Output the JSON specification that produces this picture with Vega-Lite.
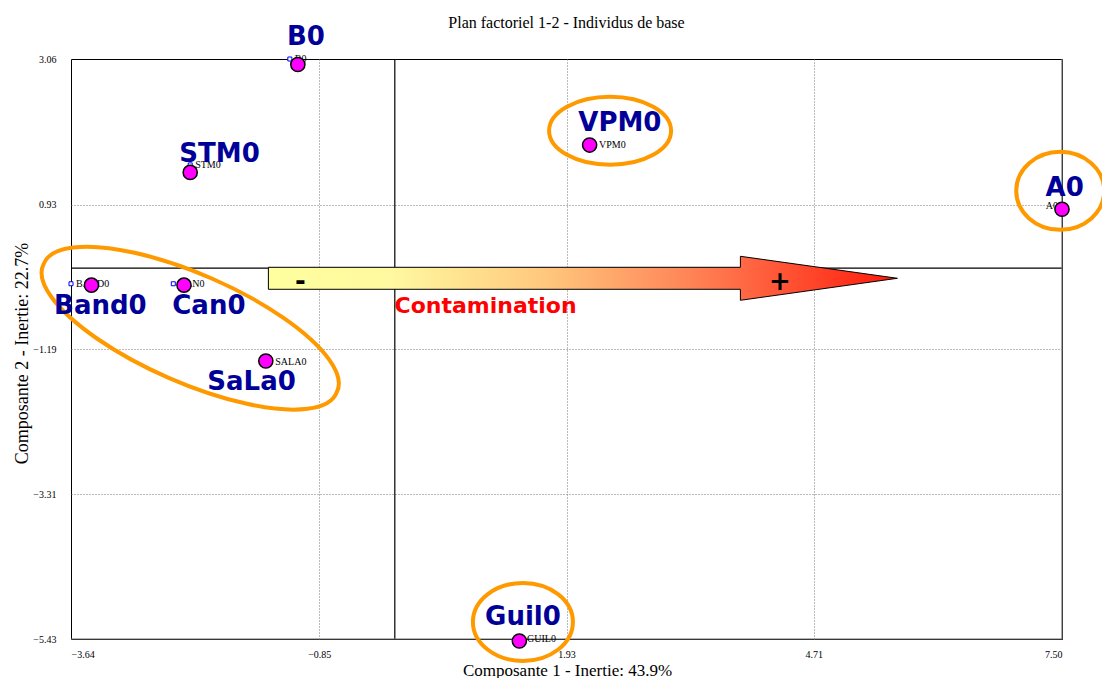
{
  "$schema": "https://vega.github.io/schema/vega-lite/v6.json",
  "width": 991,
  "height": 580,
  "autosize": {"type": "none"},
  "padding": {"left": 71, "top": 59, "right": 40, "bottom": 39},
  "background": "white",
  "config": {"view": {"stroke": "black", "strokeWidth": 1}, "font": "Liberation Serif"},
  "title": {
    "text": "Plan factoriel 1-2 - Individus de base",
    "font": "Liberation Serif",
    "fontSize": 16,
    "fontWeight": "normal",
    "color": "black",
    "anchor": "middle",
    "frame": "group",
    "baseline": "alphabetic",
    "offset": -20
  },
  "datasets": {
    "lines": [
      {"kind": "zero", "x": 0, "y": -5.43, "x2": 0, "y2": 3.06},
      {"kind": "zero", "x": -3.64, "y": 0, "x2": 7.5, "y2": 0},
      {"kind": "edge", "x": -3.64, "y": -5.43, "x2": 7.5, "y2": -5.43},
      {"kind": "edge", "x": 7.5, "y": -5.43, "x2": 7.5, "y2": 3.06}
    ],
    "points": [
      {"name": "B0", "code": "B0", "x": -1.18, "y": 3.06},
      {"name": "STM0", "code": "STM0", "x": -2.30, "y": 1.51},
      {"name": "VPM0", "code": "VPM0", "x": 2.24, "y": 1.80},
      {"name": "A0", "code": "A0", "x": 7.50, "y": 0.91},
      {"name": "Band0", "code": "BAND0", "x": -3.64, "y": -0.23},
      {"name": "Can0", "code": "CAN0", "x": -2.49, "y": -0.23},
      {"name": "SaLa0", "code": "SALA0", "x": -1.40, "y": -1.37},
      {"name": "Guil0", "code": "GUIL0", "x": 1.43, "y": -5.43}
    ],
    "markers": [
      {"name": "B0", "x": -1.09, "y": 2.98},
      {"name": "STM0", "x": -2.30, "y": 1.40},
      {"name": "VPM0", "x": 2.19, "y": 1.80},
      {"name": "A0", "x": 7.50, "y": 0.86},
      {"name": "Band0", "x": -3.41, "y": -0.25},
      {"name": "Can0", "x": -2.37, "y": -0.25},
      {"name": "SaLa0", "x": -1.45, "y": -1.36},
      {"name": "Guil0", "x": 1.40, "y": -5.46}
    ],
    "names": [
      {"name": "B0", "x": -1.00, "y": 3.38},
      {"name": "STM0", "x": -1.97, "y": 1.67},
      {"name": "VPM0", "x": 2.53, "y": 2.12},
      {"name": "A0", "x": 7.53, "y": 1.17},
      {"name": "Band0", "x": -3.31, "y": -0.56},
      {"name": "Can0", "x": -2.09, "y": -0.56},
      {"name": "SaLa0", "x": -1.61, "y": -1.67},
      {"name": "Guil0", "x": 1.44, "y": -5.11}
    ],
    "ellipses": [
      {"group": "VPM0", "x": 2.42, "y": 2.01},
      {"group": "A0", "x": 7.48, "y": 1.13},
      {"group": "Guil0", "x": 1.44, "y": -5.18},
      {"group": "Band0-Can0-SaLa0", "x": -2.30, "y": -0.88}
    ],
    "arrow": [{"label": "Contamination", "x": 2.12, "y": -0.15}],
    "signs": [
      {"sign": "-", "x": -1.06, "y": -0.20},
      {"sign": "+", "x": 4.33, "y": -0.21}
    ],
    "notes": [{"text": "Contamination", "x": 1.02, "y": -0.56}]
  },
  "encoding": {
    "x": {
      "field": "x",
      "type": "quantitative",
      "scale": {"domain": [-3.64, 7.5], "nice": false, "zero": false},
      "axis": {
        "values": [-3.64, -0.85, 1.93, 4.71, 7.5],
        "format": ".2f",
        "labelFont": "Liberation Serif",
        "labelFontSize": 10,
        "labelColor": "black",
        "labelFlush": true,
        "labelPadding": 10,
        "ticks": false,
        "domain": false,
        "grid": true,
        "gridColor": "#777777",
        "gridDash": [1, 2],
        "gridOpacity": {"condition": {"test": "datum.value == -3.64 || datum.value == 7.5", "value": 0}, "value": 1},
        "title": "Composante 1 - Inertie: 43.9%",
        "titleFont": "Liberation Serif",
        "titleFontSize": 17,
        "titleFontWeight": "normal",
        "titleColor": "black",
        "titleX": 496,
        "titleY": 36,
        "titleAlign": "center",
        "titleBaseline": "alphabetic"
      }
    },
    "y": {
      "field": "y",
      "type": "quantitative",
      "scale": {"domain": [-5.43, 3.06], "nice": false, "zero": false},
      "axis": {
        "values": [-5.43, -3.31, -1.19, 0.93, 3.06],
        "format": ".2f",
        "labelFont": "Liberation Serif",
        "labelFontSize": 10,
        "labelColor": "black",
        "labelPadding": 15,
        "ticks": false,
        "domain": false,
        "grid": true,
        "gridColor": "#777777",
        "gridDash": [1, 2],
        "gridOpacity": {"condition": {"test": "datum.value == -5.43 || datum.value == 3.06", "value": 0}, "value": 1},
        "title": "Composante 2 - Inertie: 22.7%",
        "titleFont": "Liberation Serif",
        "titleFontSize": 18,
        "titleFontWeight": "normal",
        "titleColor": "black",
        "titleAngle": -90,
        "titleX": -49,
        "titleY": 294,
        "titleAlign": "center",
        "titleBaseline": "middle"
      }
    }
  },
  "layer": [
    {
      "data": {"name": "lines"},
      "mark": {"type": "rule", "strokeWidth": 1.2},
      "encoding": {
        "x2": {"field": "x2"},
        "y2": {"field": "y2"},
        "color": {"field": "kind", "type": "nominal", "scale": {"domain": ["zero", "edge"], "range": ["#000000", "#6e6e6e"]}, "legend": null}
      }
    },
    {
      "data": {"name": "ellipses"},
      "mark": {"type": "point", "filled": false, "color": "#FF9900", "strokeWidth": 4, "size": 4, "opacity": 1},
      "encoding": {
        "shape": {
          "field": "group",
          "type": "nominal",
          "scale": {
            "domain": ["VPM0", "A0", "Guil0", "Band0-Can0-SaLa0"],
            "range": [
              "M -61 0 A 61 34 0 1 0 61 0 A 61 34 0 1 0 -61 0 Z",
              "M -44 0 A 44 39 0 1 0 44 0 A 44 39 0 1 0 -44 0 Z",
              "M -50 0 A 50 39 0 1 0 50 0 A 50 39 0 1 0 -50 0 Z",
              "M -146.6 -64 A 160 53 23.6 1 0 146.6 64 A 160 53 23.6 1 0 -146.6 -64 Z"
            ]
          },
          "legend": null
        }
      }
    },
    {
      "data": {"name": "arrow"},
      "mark": {
        "type": "point",
        "shape": "M -315 -11 L 157 -11 L 157 -22 L 314 0 L 157 22 L 157 11 L -315 11 Z",
        "size": 4,
        "filled": true,
        "opacity": 1,
        "stroke": "black",
        "strokeWidth": 1,
        "fill": {
          "gradient": "linear",
          "x1": 0, "y1": 0, "x2": 1, "y2": 0,
          "stops": [
            {"offset": 0, "color": "#FFFF9E"},
            {"offset": 0.2, "color": "#FFF8A0"},
            {"offset": 0.43, "color": "#FFCA80"},
            {"offset": 0.65, "color": "#FF8A5A"},
            {"offset": 0.75, "color": "#FF6A45"},
            {"offset": 1, "color": "#FF1A0A"}
          ]
        }
      },
      "encoding": {}
    },
    {
      "data": {"name": "signs"},
      "mark": {"type": "text", "font": "DejaVu Sans", "fontWeight": "bold", "fontSize": 26, "color": "black", "align": "center", "baseline": "middle"},
      "encoding": {"text": {"field": "sign"}}
    },
    {
      "data": {"name": "notes"},
      "mark": {"type": "text", "font": "DejaVu Sans", "fontWeight": "bold", "fontSize": 22, "color": "#FF0000", "align": "center", "baseline": "middle"},
      "encoding": {"text": {"field": "text"}}
    },
    {
      "data": {"name": "points"},
      "mark": {"type": "point", "shape": "square", "size": 16, "filled": false, "color": "#0000FF", "fill": "white", "strokeWidth": 1, "opacity": 1},
      "encoding": {}
    },
    {
      "data": {"name": "points"},
      "transform": [{"filter": "datum.name != 'A0'"}],
      "mark": {"type": "text", "font": "Liberation Serif", "fontSize": 10, "color": "black", "align": "left", "baseline": "middle", "dx": 5},
      "encoding": {"text": {"field": "code"}}
    },
    {
      "data": {"name": "points"},
      "transform": [{"filter": "datum.name == 'A0'"}],
      "mark": {"type": "text", "font": "Liberation Serif", "fontSize": 10, "color": "black", "align": "right", "baseline": "middle", "dx": -4},
      "encoding": {"text": {"field": "code"}}
    },
    {
      "data": {"name": "markers"},
      "mark": {"type": "point", "shape": "circle", "size": 200, "filled": true, "fill": "#FF00FF", "stroke": "black", "strokeWidth": 1.5, "opacity": 1},
      "encoding": {}
    },
    {
      "data": {"name": "names"},
      "mark": {"type": "text", "font": "DejaVu Sans", "fontWeight": "bold", "fontSize": 26, "color": "#000099", "align": "center", "baseline": "middle"},
      "encoding": {"text": {"field": "name"}}
    }
  ]
}
